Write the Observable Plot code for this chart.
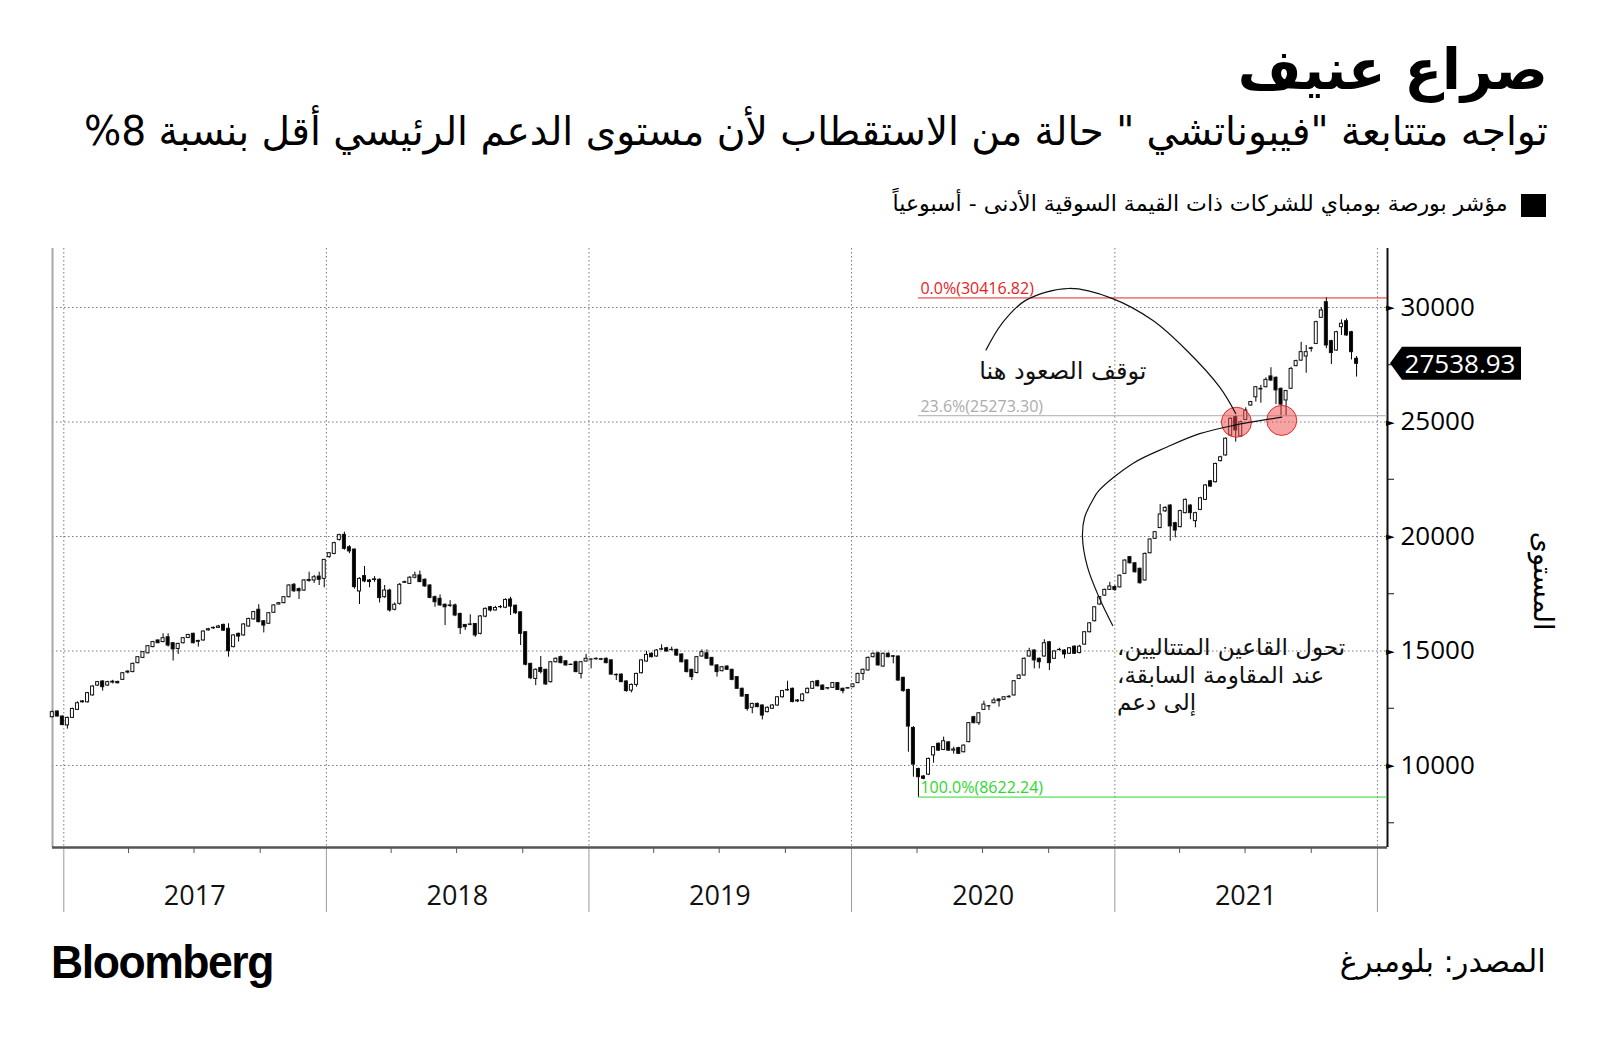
<!DOCTYPE html>
<html lang="ar">
<head>
<meta charset="utf-8">
<title>صراع عنيف</title>
<script src="https://cdn.jsdelivr.net/npm/d3@7"></script>
<script src="https://cdn.jsdelivr.net/npm/@observablehq/plot@0.6"></script>
<style>
  html, body { margin: 0; padding: 0; background: #fff; }
  #page { position: relative; width: 1600px; height: 1043px; overflow: hidden; background: #fff; color: #000; }
  .rt { position: absolute; right: 52px; white-space: nowrap; direction: rtl; transform-origin: 100% 50%; line-height: 1;
        font-family: "DejaVu Sans Condensed", "DejaVu Sans", sans-serif; }
  #title { top: 42px; font-size: 56px; font-weight: bold; }
  #subtitle { top: 111px; font-size: 40px; }
  #legendText { top: 193px; right: 92px; font-size: 22px; }
  #legendKey { position: absolute; left: 1521px; top: 194px; width: 25px; height: 23px; background: #000; }
  #source { top: 946px; right: 54px; font-size: 31px; }
  #brand { position: absolute; left: 51px; top: 939px; font: bold 46px "Liberation Sans", Arial, sans-serif;
           letter-spacing: -1.5px; line-height: 1; transform-origin: 0 50%; white-space: nowrap; }
  #chart { position: absolute; left: 0; top: 230px; }
</style>
</head>
<body>
<div id="page">
  <div id="title" class="rt">صراع عنيف</div>
  <div id="subtitle" class="rt">تواجه متتابعة "فيبوناتشي " حالة من الاستقطاب لأن مستوى الدعم الرئيسي أقل بنسبة 8%</div>
  <div id="legendKey"></div>
  <div id="legendText" class="rt">مؤشر بورصة بومباي للشركات ذات القيمة السوقية الأدنى - أسبوعياً</div>
  <div id="chart"></div>
  <div id="brand">Bloomberg</div>
  <div id="source" class="rt">المصدر: بلومبرغ</div>
</div>
<script>
// ---------- DATA (weekly candles, first week ending 2016-12-16) ----------
const firstWeek = "2016-12-16";
const opens = [
12110,12360,12140,11750,12080,12430,12760,12760,13060,13490,
13670,13490,13620,13650,13740,14060,14080,14470,14700,14900,
15170,15460,15390,15600,15340,15090,15340,15570,15750,15400,
15460,15900,15990,16010,16140,15970,15170,15750,15680,16070,
16380,16800,16300,16190,16670,17030,17090,17350,17890,17700,
17640,18060,18080,18250,18150,19100,19240,19850,20070,19530,
19430,17600,18270,18080,18100,18110,17350,17640,16800,17060,
17980,17930,18200,18300,18110,17860,17350,17280,17020,16990,
16990,16620,16140,16140,16180,15750,16500,16910,16770,16910,
16890,17250,16980,16690,15820,14440,13780,14260,14180,13640,
14510,14730,14550,14400,14510,14000,14540,14620,14640,14640,
14660,14590,13960,13970,13670,13270,13520,14030,14540,14880,
14760,15060,15120,15040,15050,14850,14590,14180,14040,14760,
14900,14700,14370,14120,14320,14180,13860,13350,13080,12520,
12690,12620,12330,12480,12620,12980,13280,13350,12800,12810,
13160,13350,13680,13490,13360,13390,13600,13350,13360,13420,
13600,14000,14150,14730,14900,14320,14880,14770,14760,13830,
13300,11640,9850,9520,9600,10440,10950,10680,11010,10650,
10760,10580,11020,12110,11850,12430,12580,12720,12880,12870,
12980,13060,13780,13930,14760,15020,14660,14760,15380,14660,
15040,15020,14880,15190,14910,15280,15820,16300,17030,17420,
17670,17790,17780,18370,19100,18830,18590,18080,19270,19900,
20370,21100,21350,20580,20410,21020,21350,20670,21160,21600,
22410,22370,23290,23540,24410,25210,24370,25090,25720,26080,
26420,26520,26990,26930,26450,25940,26450,27440,27680,27860,
28190,28410,29550,30230,28530,28120,29140,29400,28920,27760];
const highs = [
12380,12380,12160,12110,12500,12780,12840,13190,13480,13670,
13700,13680,13720,13680,14060,14140,14470,14760,14980,15240,
15420,15490,15750,15750,15370,15340,15590,15730,15780,15470,
15880,15990,16050,16120,16170,16190,15710,15780,16190,16430,
16730,17020,16330,16680,17020,17120,17380,17890,17950,17750,
18120,18440,18300,18440,19000,19300,19750,20100,20190,19600,
19450,18200,18690,18120,18250,18150,17860,17700,17100,17950,
18050,18250,18440,18490,18150,17900,17400,17450,17050,17200,
17050,16650,16150,16580,16200,16550,16880,16950,16950,16980,
17280,17350,17000,16700,15850,14460,14220,14760,14200,14540,
14700,14780,14580,14430,14560,14550,14850,14660,14700,14680,
14700,14620,14000,14000,13700,13560,14030,14620,14990,14920,
15060,15270,15160,15170,15080,14870,14600,14200,14760,15050,
15050,14720,14400,14330,14360,14200,13880,13380,13100,12720,
12730,12650,12560,12660,13010,13280,13680,13380,12880,13140,
13380,13680,13720,13520,13400,13620,13630,13380,13410,13570,
14030,14210,14740,14920,14950,14910,14920,14800,14780,13850,
13330,11700,9880,9560,10320,10830,10980,11240,11050,10800,
10800,10900,11880,12150,12310,12810,12620,12940,12920,13010,
13060,13710,13960,14700,15120,15060,14700,15490,15420,15010,
15120,15060,15150,15220,15250,15850,16240,16940,17380,17700,
18000,17850,18320,18980,19130,18860,18620,19280,19900,20220,
21400,21300,21400,20620,21150,21640,21400,21060,21710,22270,
22450,23200,23500,24300,25180,25260,25040,25620,25900,26550,
26600,26930,27370,26970,26480,26380,27390,27700,28480,28340,
28270,29400,29990,30416.82,28570,28960,29460,29500,28960,27860];
const lows = [
12080,12110,11730,11590,12050,12400,12730,12730,13030,13460,
13250,13460,13560,13570,13710,14000,14050,14440,14670,14870,
15140,15320,15360,15170,14560,14850,15310,15540,15310,15170,
15430,15870,15950,15980,15860,14730,15140,15390,15650,16040,
16350,16230,15790,16160,16640,17000,17060,17320,17550,17250,
17600,18000,17950,17860,17760,19050,19200,19800,19400,19250,
17700,17030,17980,17760,18000,17100,17300,16700,16750,17000,
17950,17900,18150,17980,17780,17280,16910,16950,16110,16900,
16500,15720,15900,16100,15600,15700,16450,16700,16750,16850,
16850,16550,16600,15240,14350,13750,13490,14000,13500,13600,
14480,14440,14340,14370,14050,13780,14520,14220,14600,14580,
14440,13950,13710,13620,13200,13170,13420,14000,14510,14700,
14730,15020,14950,15000,14770,14480,14040,13710,14000,14730,
14630,14340,13860,14090,14150,13700,13320,12990,12370,12260,
12520,11990,12300,12450,12590,12950,13250,12740,12750,12780,
13130,13320,13430,13280,13300,13370,13280,13130,13340,13400,
13570,13710,14120,14700,14340,14290,14700,14440,13680,13200,
10580,9490,8622.24,9380,9560,10100,10620,10650,10620,10500,
10480,10550,10990,11820,11750,12400,12400,12700,12550,12850,
12940,13030,13750,13900,14730,14220,14220,14730,14150,14630,
15000,14660,14850,14850,14880,15250,15790,16270,17000,17390,
17640,17600,17750,18340,18800,18400,17920,18050,19240,19870,
20340,21050,19790,19940,20380,20990,20730,20380,21130,21570,
22150,22340,23260,23510,24380,24120,24340,25060,25690,25870,
25820,26490,26780,25760,25280,25280,26420,27410,27650,27130,
28050,28380,29520,28200,27510,28090,28780,28740,27710,26960];
const closes = [
12330,12140,11770,12080,12470,12720,12800,13160,13450,13640,
13420,13640,13660,13590,14030,14100,14440,14730,14950,15210,
15390,15340,15560,15240,15070,15310,15560,15700,15340,15440,
15850,15950,16010,16070,15890,14990,15680,15630,16160,16400,
16700,16260,16110,16650,16990,17090,17350,17860,17610,17610,
18080,18100,18220,18110,18980,19270,19710,20060,19460,19350,
17790,18150,18040,18010,18130,17310,17640,16770,17020,17890,
18010,18200,18300,18010,17820,17320,17130,16990,16910,16970,
16550,16000,16040,16160,15680,16510,16840,16770,16880,16920,
17230,16940,16650,15750,14400,13810,14180,14080,13540,14510,
14660,14470,14370,14390,14080,14510,14660,14630,14660,14620,
14470,13970,13940,13640,13250,13520,14000,14590,14830,14730,
15020,15080,14980,15050,14800,14510,14080,13860,14730,14950,
14660,14370,14080,14290,14180,13740,13350,13010,12470,12690,
12550,12180,12520,12620,12980,13250,13300,12770,12840,13100,
13350,13640,13460,13300,13380,13600,13300,13250,13380,13540,
14000,14180,14700,14880,14370,14880,14730,14750,13710,13250,
11700,10040,9490,9420,10290,10800,10650,11060,10650,10700,
10510,10870,11850,11850,12280,12660,12590,12840,12810,12980,
13000,13680,13930,14660,14990,14590,14510,15340,14470,14980,
15050,14850,15120,14880,15190,15820,16210,16910,17350,17670,
17820,17670,18290,18950,18830,18440,17960,19240,19870,20190,
20960,21250,20440,20260,21110,21600,21020,21020,21670,22230,
22180,23170,23460,24270,25140,24630,24990,25500,25870,26520,
26450,26840,26810,26380,25760,26350,27320,27660,28050,28050,
28220,29360,29870,28340,28010,28920,29290,28780,28050,27538.93];

// Fibonacci retracement levels
const fibLevels = ["0.0%", "23.6%", "100.0%"];
const fibValues = [30416.82, 25273.30, 8622.24];

// axis ticks
const yTickValues = [10000, 15000, 20000, 25000, 30000];
const yMinorTicks = [7500, 12500, 17500, 22500, 27500];
const yearLabels = [2017, 2018, 2019, 2020, 2021];
const yearBounds = [2017, 2018, 2019, 2020, 2021, 2022];

// annotations (date, index level)
const circleDates = ["2021-06-19", "2021-08-21"];
const circleValues = [24990, 25070];
const curve1Dates = ["2020-07-06","2020-07-28","2020-08-30","2020-10-29","2020-12-28","2021-02-23","2021-04-11","2021-05-27","2021-06-18"];
const curve1Values = [28150, 29300, 30310, 30830, 30400, 29430, 28120, 26510, 25370];
const curve2Dates = ["2020-12-29","2020-12-10","2020-11-24","2020-11-17","2020-11-20","2020-12-01","2020-12-10","2021-01-26","2021-03-14","2021-04-29","2021-06-15","2021-08-21"];
const curve2Values = [16110, 17350, 18660, 19970, 20840, 21570, 22010, 23190, 23900, 24490, 24850, 25210];
const note1 = {date: "2021-02-14", value: 27206, text: "توقف الصعود هنا"};
const note2 = {date: "2021-01-04", value: 14000, text: "تحول القاعين المتتاليين،\u200F\nعند المقاومة السابقة،\u200F\nإلى دعم"};
const yTitle = "المستوى";
const yTitleLevel = 15900;

// ---------- BUILD ----------
const DAY = 864e5;
const t0 = Date.parse(firstWeek + "T00:00:00Z");
const candles = opens.map((o, i) => ({
  date: new Date(t0 + i * 7 * DAY), open: o, high: highs[i], low: lows[i], close: closes[i]
}));
const lowCandle = candles.reduce((a, b) => (b.low < a.low ? b : a));
const lastClose = closes[closes.length - 1];
const utc = s => new Date(s + "T00:00:00Z");
const xStart = new Date(Date.UTC(2016, 11, 16, 7));
const xEnd = new Date(Date.UTC(2022, 0, 15));
const fibColors = ["#e8221e", "#ababab", "#2fd62f"];
const fib = fibLevels.map((l, i) => ({level: l, value: fibValues[i], color: fibColors[i]}));
const circles = circleDates.map((d, i) => ({date: utc(d), value: circleValues[i]}));
const curve1 = curve1Dates.map((d, i) => ({date: utc(d), value: curve1Values[i]}));
const curve2 = curve2Dates.map((d, i) => ({date: utc(d), value: curve2Values[i]}));
const yearStarts = yearBounds.map(y => new Date(Date.UTC(y, 0, 1)));
const midYears = yearLabels.map(y => new Date(Date.UTC(y, 6, 2)));
const quarterTicks = d3.utcMonth.every(3).range(new Date(Date.UTC(2017, 0, 1)), new Date(Date.UTC(2022, 0, 1))).filter(d => d.getUTCMonth() !== 0);

const W = 1600, H = 700, ML = 52, MR = 213, MT = 18, MB = 83;
const grid = {stroke: "#7a7a7a", strokeOpacity: 1, strokeDasharray: "1.5,2.5", strokeWidth: 1};
const blank = () => "";

const chart = Plot.plot({
  width: W, height: H,
  marginLeft: ML, marginRight: MR, marginTop: MT, marginBottom: MB,
  style: {fontFamily: "'Open Sans', 'DejaVu Sans', sans-serif", background: "none", overflow: "visible", color: "#000"},
  x: {type: "utc", domain: [xStart, xEnd], axis: null},
  y: {domain: [6420, 32576], axis: null},
  color: {type: "identity"},
  marks: [
    Plot.gridY({ticks: yTickValues, ...grid}),
    Plot.gridX({ticks: yearStarts, ...grid}),
    // bottom axis: year boundary lines, quarter ticks, year labels
    Plot.axisX({ticks: yearStarts, tickSize: 65, tickFormat: blank, stroke: "#9a9a9a"}),
    Plot.axisX({ticks: quarterTicks, tickSize: 6, tickFormat: blank, stroke: "#555"}),
    Plot.axisX({ticks: midYears, tickSize: 0, tickPadding: 38, tickFormat: d => String(d.getUTCFullYear()), fontSize: 27, fill: "#111"}),
    // frame
    Plot.ruleX([xStart], {stroke: "#a8a8a8", strokeWidth: 2}),
    Plot.ruleY([6420], {stroke: "#555", strokeWidth: 2.5}),
    Plot.ruleX([xEnd], {stroke: "#111", strokeWidth: 2}),
    // right axis
    Plot.axisY({anchor: "right", ticks: yMinorTicks, tickSize: 6, tickFormat: blank, label: null, stroke: "#111"}),
    Plot.axisY({anchor: "right", ticks: yTickValues, tickSize: 0, tickPadding: 13, tickFormat: d3.format("d"), label: null, fontSize: 26, fill: "#000"}),
    Plot.text(yTickValues, {y: d => d, frameAnchor: "right", text: () => "►", dx: 7, fontSize: 11, fill: "#000"}),
    Plot.text([yTitle], {text: d => d, y: () => yTitleLevel, frameAnchor: "right", dx: 155, rotate: 90, fontSize: 27, fontFamily: "DejaVu Sans", fill: "#000"}),
    // fibonacci levels
    Plot.ruleY(fib, {y: "value", x1: () => lowCandle.date, x2: () => xEnd, stroke: d => d.color, strokeWidth: 1}),
    Plot.text(fib, {x: () => lowCandle.date, y: "value", text: d => `${d.level}(${d.value.toFixed(2)})`,
      textAnchor: "start", dx: 2, dy: -9, fill: d => d.color, fontSize: 16, fontFamily: "'Open Sans', sans-serif"}),
    // candles
    Plot.ruleX(candles, {x: "date", y1: "low", y2: "high", stroke: "#000", strokeWidth: 1}),
    Plot.rect(candles, {
      x1: d => new Date(+d.date - 2.1 * DAY), x2: d => new Date(+d.date + 2.1 * DAY),
      y1: "open", y2: "close",
      fill: d => (d.close >= d.open ? "#ffffff" : "#000000"), stroke: "#111", strokeWidth: 1
    }),
    // annotation circles & curves
    Plot.dot(circles, {x: "date", y: "value", r: 15, fill: "#f04848", fillOpacity: 0.5, stroke: "#e02a2a", strokeWidth: 1}),
    Plot.line(curve1, {x: "date", y: "value", curve: "catmull-rom", stroke: "#111", strokeWidth: 1.2}),
    Plot.line(curve2, {x: "date", y: "value", curve: "catmull-rom", stroke: "#111", strokeWidth: 1.2}),
    Plot.text([note1], {x: d => utc(d.date), y: "value", text: "text", textAnchor: "end", fontSize: 24, fontFamily: "DejaVu Sans", fill: "#111"}),
    Plot.text([note2], {x: d => utc(d.date), y: "value", text: "text", textAnchor: "start", lineHeight: 1.2, fontSize: 23, fontFamily: "DejaVu Sans", fill: "#111"})
  ]
});
document.getElementById("chart").appendChild(chart);

// last price tag on the right axis
const py = chart.scale("y").apply(lastClose);
const ax = W - MR;
const tag = d3.select(chart).append("g");
tag.append("path")
  .attr("d", `M${ax + 3},${py} L${ax + 15},${py - 16.5} L${ax + 134},${py - 16.5} L${ax + 134},${py + 16.5} L${ax + 15},${py + 16.5} Z`)
  .attr("fill", "#000");
tag.append("text")
  .attr("x", ax + 73).attr("y", py).attr("dy", "0.36em")
  .attr("text-anchor", "middle").attr("fill", "#fff")
  .attr("font-family", "'Open Sans', sans-serif").attr("font-size", 26)
  .text(d3.format(".2f")(lastClose));

// fit header / footer text widths to the reference layout
function fitWidth(id, target) {
  const el = document.getElementById(id);
  const w = el.getBoundingClientRect().width;
  if (w > 0) el.style.transform = `scaleX(${target / w})`;
}
fitWidth("title", 310);
fitWidth("subtitle", 1464);
fitWidth("legendText", 615);
fitWidth("source", 206);
fitWidth("brand", 222);
</script>
</body>
</html>
